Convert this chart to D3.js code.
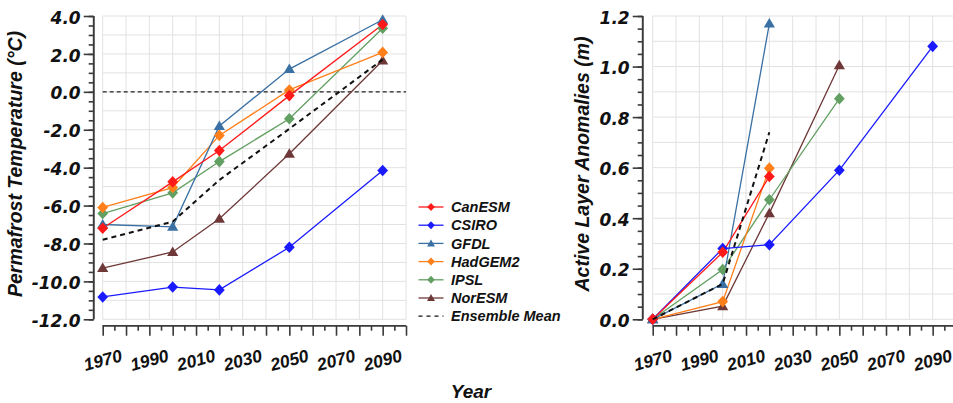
<!DOCTYPE html>
<html><head><meta charset="utf-8">
<script src="https://cdn.jsdelivr.net/npm/d3@7/dist/d3.min.js"></script>
<style>
html,body{margin:0;padding:0;background:#fff;}
svg text{font-family:"Liberation Sans",Arial,sans-serif;font-weight:bold;font-style:italic;fill:#111;}
svg text.yt{font-family:"DejaVu Sans",Verdana,sans-serif;}
</style></head>
<body><svg id="c" width="953" height="403"></svg>
<script>
// ---- data ----
const years = [1970, 2000, 2020, 2050, 2090];
const modelNames = ["CanESM", "CSIRO", "GFDL", "HadGEM2", "IPSL", "NorESM"];
const modelColors = ["#ff1a1a", "#1a1aff", "#3a70a3", "#ff7f1a", "#629f62", "#6e3838"];
const modelShapes = ["diamond", "diamond", "triangle", "diamond", "diamond", "triangle"];

// Permafrost temperature (°C)
const canesmT = [-7.2, -4.75, -3.1, -0.2, 3.55];
const csiroT  = [-10.82, -10.3, -10.45, -8.2, -4.15];
const gfdlT   = [-7.0, -7.12, -1.8, 1.2, 3.8];
const hadgemT = [-6.1, -5.05, -2.3, 0.1, 2.08];
const ipslT   = [-6.42, -5.33, -3.68, -1.42, 3.35];
const noresmT = [-9.3, -8.45, -6.7, -3.27, 1.65];
const meanT   = [-7.8, -6.85, -4.65, -1.95, 1.7];

// Active layer anomalies (m)
const canesmA = [0, 0.265, 0.565];
const csiroA  = [0, 0.28, 0.295, 0.59, 1.08];
const gfdlA   = [0, 0.14, 1.17];
const hadgemA = [0, 0.07, 0.598];
const ipslA   = [0, 0.197, 0.473, 0.873];
const noresmA = [0, 0.052, 0.42, 1.005];
const meanA   = [0, 0.14, 0.74];

const tempTicks = [-12, -10, -8, -6, -4, -2, 0, 2, 4];
const alaTicks = [0.0, 0.2, 0.4, 0.6, 0.8, 1.0, 1.2];
const yearTicks = [1970, 1990, 2010, 2030, 2050, 2070, 2090];

const svg = d3.select("#c");
const axisColor = "#3a3a3a";
const gridColor = "#e2e2e2";

function panel(cfg) {
  const g = svg.append("g");
  const x = d3.scaleLinear().domain([1970, 2100]).range([cfg.left, cfg.left + 303.3]);
  const y = d3.scaleLinear().domain(cfg.yDomain).range([319.3, 16]);
  const [y0, y1] = cfg.yDomain;

  // grid
  const vx = d3.range(1970, 2101, 10);
  g.selectAll(".vg").data(vx).join("line")
    .attr("x1", d => x(d)).attr("x2", d => x(d))
    .attr("y1", y(y1)).attr("y2", y(y0))
    .attr("stroke", gridColor).attr("stroke-width", 1);
  const hy = d3.range(0, Math.round((y1 - y0) / cfg.gridStep) + 1).map(i => y0 + i * cfg.gridStep);
  g.selectAll(".hg").data(hy).join("line")
    .attr("x1", x(1970)).attr("x2", x(2100))
    .attr("y1", d => y(d)).attr("y2", d => y(d))
    .attr("stroke", gridColor).attr("stroke-width", 1);

  // y axis (detached)
  const yAxisX = cfg.left - cfg.yOff;
  const yAxis = d3.axisLeft(y).tickValues(cfg.yTicks).tickSize(10).tickPadding(cfg.pad)
    .tickFormat(d3.format(".1f"));
  const ya = g.append("g").attr("transform", `translate(${yAxisX},0)`).call(yAxis);
  const yMinor = d3.axisLeft(y).tickValues(d3.range(0, Math.round((y1 - y0) / cfg.minorStep) + 1).map(i => y0 + i * cfg.minorStep))
    .tickSize(5).tickFormat("");
  const ym = g.append("g").attr("transform", `translate(${yAxisX},0)`).call(yMinor);
  [ya, ym].forEach(a => {
    a.select(".domain").attr("stroke", axisColor).attr("stroke-width", 1.6).attr("d", `M0,${y(y1)}V${y(y0)}`);
    a.selectAll(".tick line").attr("stroke", axisColor).attr("stroke-width", 1.6);
  });
  ya.selectAll(".tick text").attr("class", "yt").style("font-size", "17px").attr("fill", "#111")
    .attr("dy", "0.42em")
    .text(d => d3.format(".1f")(d).replace("−", "-"));

  // x axis (detached)
  const xAxisY = 325.7;
  const xAxis = d3.axisBottom(x).tickValues(d3.range(1970, 2101, 10)).tickSize(10).tickFormat("");
  const xMinor = d3.axisBottom(x).tickValues(d3.range(1975, 2100, 10)).tickSize(5).tickFormat("");
  const xa = g.append("g").attr("transform", `translate(0,${xAxisY})`).call(xAxis);
  const xm = g.append("g").attr("transform", `translate(0,${xAxisY})`).call(xMinor);
  [xa, xm].forEach(a => {
    a.select(".domain").attr("stroke", axisColor).attr("stroke-width", 1.6).attr("d", `M${x(1970)},0H${x(2100)}`);
    a.selectAll(".tick line").attr("stroke", axisColor).attr("stroke-width", 1.6);
  });
  g.selectAll(".xl").data(yearTicks).join("text")
    .attr("transform", d => `translate(${x(d)},360) rotate(-15)`)
    .attr("text-anchor", "middle").attr("dy", "0.35em")
    .style("font-size", "17.5px").text(d => d);

  // y title
  g.append("text").attr("transform", `translate(${cfg.titleX},${cfg.titleY}) rotate(-90)`)
    .attr("text-anchor", "middle").style("font-size", "19.5px").text(cfg.title);

  if (cfg.zeroLine) {
    g.append("line").attr("x1", x(1970)).attr("x2", x(2100)).attr("y1", y(0)).attr("y2", y(0))
      .attr("stroke", "#222").attr("stroke-width", 1.3).attr("stroke-dasharray", "4,3");
  }

  // series
  const line = d3.line().x(d => x(d[0])).y(d => y(d[1]));
  const order = [5, 4, 3, 2, 1, 0];
  order.forEach(i => {
    const vals = cfg.series[i];
    const pts = vals.map((v, j) => [years[j], v]);
    g.append("path").attr("d", line(pts)).attr("fill", "none")
      .attr("stroke", modelColors[i]).attr("stroke-width", 1.3);
  });
  order.forEach(i => {
    const vals = cfg.series[i];
    const pts = vals.map((v, j) => [years[j], v]);
    g.selectAll(null).data(pts).join("path")
      .attr("transform", d => `translate(${x(d[0])},${y(d[1])})`)
      .attr("d", modelShapes[i] === "diamond" ? "M0,-5.8L5.4,0L0,5.8L-5.4,0Z" : "M0,-5.5L5.6,4L-5.6,4Z")
      .attr("fill", modelColors[i]);
  });
  const mpts = cfg.mean.map((v, j) => [years[j], v]);
  g.append("path").attr("d", line(mpts)).attr("fill", "none")
    .attr("stroke", "#111").attr("stroke-width", 2).attr("stroke-dasharray", "5,4");
}

panel({
  left: 102.7, yOff: 9, pad: 3, yDomain: [-12, 4], gridStep: 1, minorStep: 0.5,
  yTicks: tempTicks, title: "Permafrost Temperature (°C)", titleX: 22, titleY: 164,
  series: [canesmT, csiroT, gfdlT, hadgemT, ipslT, noresmT], mean: meanT, zeroLine: true
});
panel({
  left: 652.7, yOff: 10, pad: 3, yDomain: [0, 1.2], gridStep: 0.1, minorStep: 0.05,
  yTicks: alaTicks, title: "Active Layer Anomalies (m)", titleX: 589, titleY: 164,
  series: [canesmA, csiroA, gfdlA, hadgemA, ipslA, noresmA], mean: meanA, zeroLine: false
});

// legend
const lg = svg.append("g");
const rowY = d => 207 + d * 18.2;
modelNames.forEach((n, i) => {
  lg.append("line").attr("x1", 418.5).attr("x2", 443.5).attr("y1", rowY(i)).attr("y2", rowY(i))
    .attr("stroke", modelColors[i]).attr("stroke-width", 1.3);
  lg.append("path").attr("transform", `translate(431,${rowY(i)})`)
    .attr("d", modelShapes[i] === "diamond" ? "M0,-4L3.8,0L0,4L-3.8,0Z" : "M0,-4L4,3L-4,3Z")
    .attr("fill", modelColors[i]);
  lg.append("text").attr("x", 451).attr("y", rowY(i)).attr("dy", "0.36em")
    .style("font-size", "14.5px").text(n);
});
lg.append("line").attr("x1", 418.5).attr("x2", 443.5).attr("y1", rowY(6)).attr("y2", rowY(6))
  .attr("stroke", "#111").attr("stroke-width", 1.3).attr("stroke-dasharray", "4,4");
lg.append("text").attr("x", 451).attr("y", rowY(6)).attr("dy", "0.36em")
  .style("font-size", "14.5px").text("Ensemble Mean");

svg.append("text").attr("x", 471).attr("y", 398).attr("text-anchor", "middle")
  .style("font-size", "19px").text("Year");
</script></body></html>
